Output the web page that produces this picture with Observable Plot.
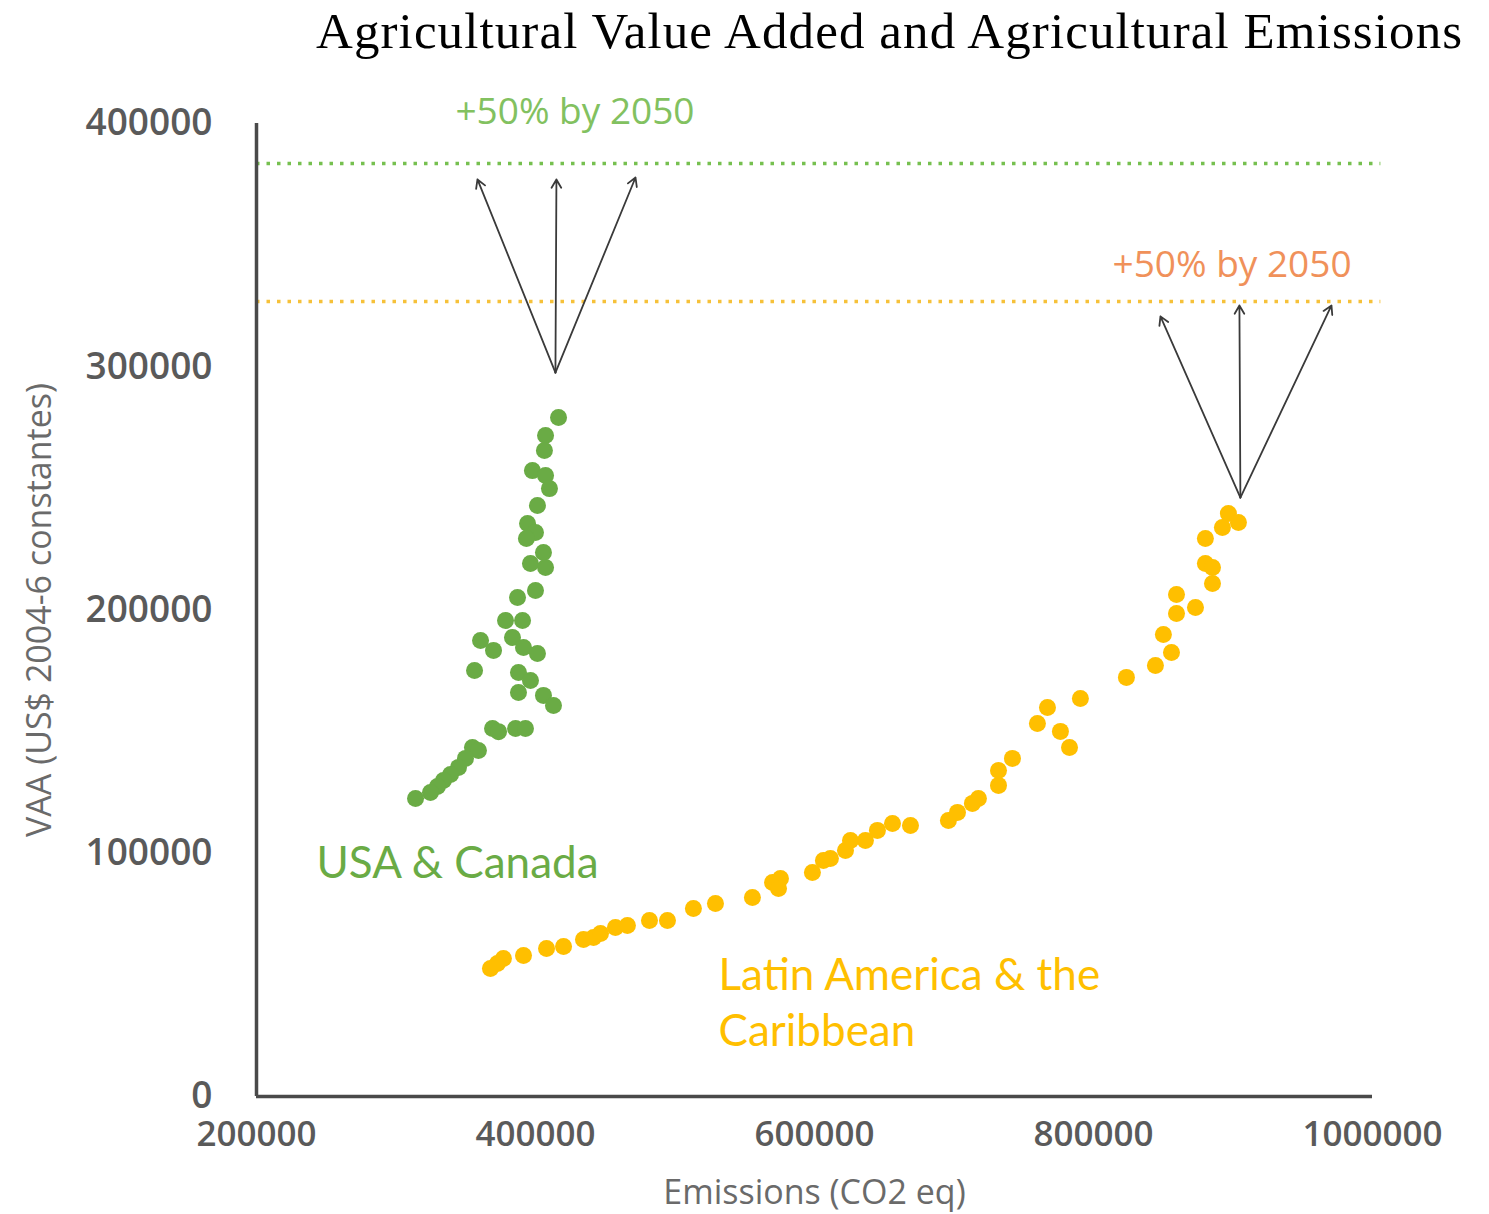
<!DOCTYPE html>
<html>
<head>
<meta charset="utf-8">
<script src="https://cdn.jsdelivr.net/npm/d3@7"></script>
<script src="https://cdn.jsdelivr.net/npm/@observablehq/plot@0.6"></script>
<style>
  html, body { margin: 0; padding: 0; background: #fff; }
  #title { height: 62px; line-height: 62px; padding-left: 316px; font-family: "Liberation Serif", serif; font-size: 51px; letter-spacing: 1.1px; color: #000; white-space: nowrap; }
  #chart svg { display: block; }
</style>
</head>
<body>
<div id="title">Agricultural Value Added and Agricultural Emissions</div>
<div id="chart"></div>
<script>
const xTicks = [200000, 400000, 600000, 800000, 1000000];
const yTicks = [0, 100000, 200000, 300000, 400000];

// USA & Canada: emissions (CO2 eq) and VAA
const usaEmissions = [416500, 407200, 406400, 397800, 407200, 410000, 401400, 394300, 400000, 393500,
  405700, 396400, 407200, 400000, 387100, 378500, 390700, 360600, 369900, 383500,
  391400, 401400, 356300, 387800, 396400, 387800, 405700, 412900, 369200, 373500,
  385700, 392800, 354800, 359100, 349800, 344800, 339100, 334000, 329700, 324700, 314000];
const usaVAA = [279100, 271700, 265600, 257300, 255300, 249900, 243000, 235600, 231900, 229400,
  223600, 219100, 217500, 208000, 205100, 195700, 195700, 187500, 183400, 188700,
  184600, 182100, 175100, 174300, 171000, 166100, 164900, 160700, 151300, 150000,
  151300, 151300, 143500, 142200, 139000, 135300, 132400, 129900, 127400, 125000, 122500];

// Latin America & the Caribbean
const latamEmissions = [367700, 372700, 377000, 391400, 407900, 420100, 434400, 441600, 446600, 457300,
  465900, 481700, 494600, 513200, 529000, 555500, 569900, 575600, 574200, 598500,
  606400, 611400, 622200, 625800, 636500, 645100, 655900, 668800, 696000, 702500,
  713200, 717500, 731900, 731900, 741900, 759800, 767000, 776300, 782800, 790600,
  823600, 844400, 850100, 855900, 859500, 859500, 873100, 885300, 880200, 885300,
  880200, 892400, 896700, 903900];
const latamVAA = [52600, 54700, 56700, 58000, 60800, 61700, 64500, 65400, 67000, 69500,
  70300, 72400, 72400, 77300, 79300, 81800, 88000, 89600, 85500, 92100,
  97000, 97800, 101100, 105200, 105200, 109400, 112200, 111400, 113500, 116800,
  120500, 122500, 127900, 134000, 139000, 153300, 159900, 150100, 143500, 163600,
  172300, 177200, 189900, 182500, 198600, 206400, 201000, 210900, 219100, 217500,
  229400, 233900, 239700, 236000];

// Target levels (+50% by 2050)
const targetLevels = [383600, 326800];
const targetLabels = ["+50% by 2050", "+50% by 2050"];
const targetLabelX = [342600, 813600];
const targetLabelY = [404500, 341600];

// Arrows: base -> tip
const usaArrowBase = [414300, 297600];
const usaArrowTipsX = [358400, 415000, 471700];
const usaArrowTipsY = [377000, 377000, 377800];
const latamArrowBase = [905300, 246200];
const latamArrowTipsX = [848000, 904600, 970600];
const latamArrowTipsY = [320700, 325200, 325200];

const seriesLabels = ["USA & Canada", "Latin America & the\nCaribbean"];
const seriesLabelX = [243000, 531200];
const seriesLabelY = [97400, 39800];

const GREEN = "#6aab45";
const GOLD = "#ffbf00";
const usa = usaEmissions.map((x, i) => ({x, y: usaVAA[i]}));
const latam = latamEmissions.map((x, i) => ({x, y: latamVAA[i]}));
const arrows = [
  ...usaArrowTipsX.map((x, i) => ({x1: usaArrowBase[0], y1: usaArrowBase[1], x2: x, y2: usaArrowTipsY[i]})),
  ...latamArrowTipsX.map((x, i) => ({x1: latamArrowBase[0], y1: latamArrowBase[1], x2: x, y2: latamArrowTipsY[i]}))
];

const chart = Plot.plot({
  width: 1489,
  height: 1152,
  marginTop: 61,
  marginBottom: 118,
  marginLeft: 256,
  marginRight: 117,
  x: {domain: [200000, 1000000]},
  y: {domain: [0, 400000]},
  style: {background: "#fff", color: "#5a5a5a", fontFamily: "'Open Sans', sans-serif", fontSize: "37px", fontWeight: 600},
  marks: [
    Plot.axisX({ticks: xTicks, tickSize: 0, tickPadding: 25, tickFormat: d => String(d), label: null, fontSize: 35}),
    Plot.axisY({ticks: yTicks, tickSize: 0, tickPadding: 44, tickFormat: d => String(d), label: null}),
    Plot.ruleY([targetLevels[0]], {x1: 200000, x2: 1006000, stroke: "#76c04f", strokeWidth: 3.5, strokeDasharray: "3.5,7"}),
    Plot.ruleY([targetLevels[1]], {x1: 200000, x2: 1006000, stroke: "#f6c13a", strokeWidth: 3.5, strokeDasharray: "3.5,7"}),
    Plot.ruleX([200000], {y1: 0, y2: 400000, stroke: "#4a4a4a", strokeWidth: 3.5}),
    Plot.ruleY([0], {x1: 200000, x2: 1000000, stroke: "#4a4a4a", strokeWidth: 3.5}),
    Plot.arrow(arrows, {x1: "x1", y1: "y1", x2: "x2", y2: "y2", stroke: "#3a3a3a", strokeWidth: 1.8, headLength: 8}),
    Plot.dot(usa, {x: "x", y: "y", r: 8.5, fill: GREEN}),
    Plot.dot(latam, {x: "x", y: "y", r: 8.5, fill: GOLD}),
    Plot.text([0, 1], {x: i => targetLabelX[i], y: i => targetLabelY[i], text: i => targetLabels[i],
      fill: (i) => ["#82c160", "#f0915a"][i], textAnchor: "start", fontSize: 37, fontWeight: 500}),
    Plot.text([0, 1], {x: i => seriesLabelX[i], y: i => seriesLabelY[i], text: i => seriesLabels[i],
      fill: (i) => [GREEN, GOLD][i], textAnchor: "start", fontSize: 44, fontWeight: 400, fontFamily: "Lato, sans-serif", lineHeight: 1.28}),
    Plot.text(["Emissions (CO2 eq)"], {frameAnchor: "bottom", dy: 97, lineAnchor: "middle", textAnchor: "middle", fontSize: 34, fontWeight: 500, fill: "#6a6a6a"}),
    Plot.text(["VAA (US$ 2004-6 constantes)"], {frameAnchor: "left", dx: -216, rotate: -90, lineAnchor: "middle", textAnchor: "middle", fontSize: 34, fontWeight: 500, fill: "#6a6a6a"})
  ]
});
document.getElementById("chart").appendChild(chart);
</script>
</body>
</html>
